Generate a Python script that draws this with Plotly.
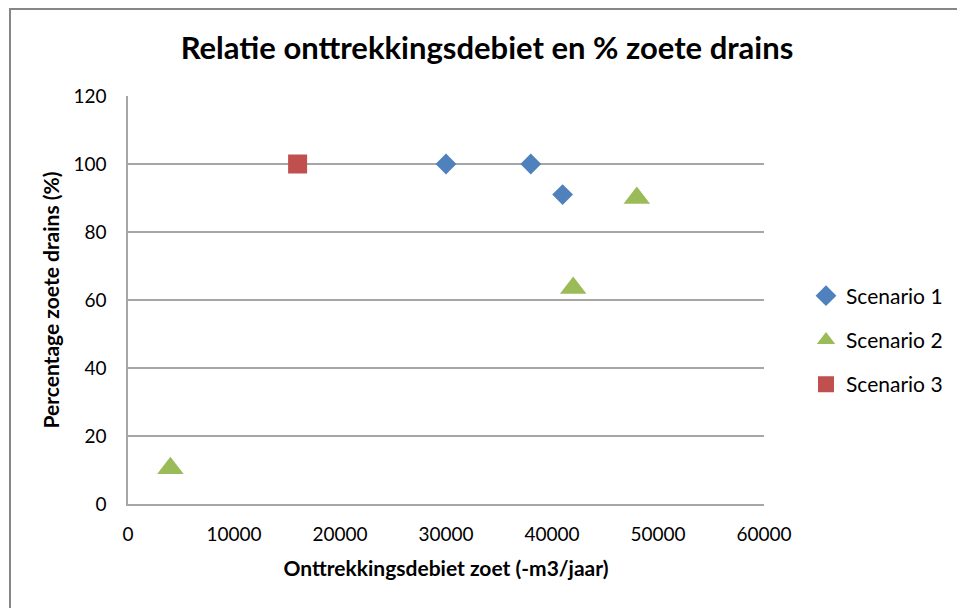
import plotly.graph_objects as go

# Scenario data: abstraction rate (-m3/jaar) vs. percentage fresh drains
s1_x = [30000, 38000, 41000]
s1_y = [100, 100, 91]
s2_x = [4000, 42000, 48000]
s2_y = [10.5, 63.5, 90]
s3_x = [16000]
s3_y = [100]

x_ticks = [0, 10000, 20000, 30000, 40000, 50000, 60000]
y_ticks = [0, 20, 40, 60, 80, 100, 120]

FONT = "Lato, 'Open Sans', sans-serif"
GRID = "#A6A6A6"

fig = go.Figure()
fig.add_trace(go.Scatter(x=s1_x, y=s1_y, mode="markers", name="Scenario 1", legendgroup="a",
                         marker=dict(symbol="diamond", size=16, color="#4F81BD")))
fig.add_trace(go.Scatter(x=s2_x, y=s2_y, mode="markers", name="Scenario 2", legendgroup="b",
                         marker=dict(symbol="triangle-up", size=23, color="#9BBB59")))
fig.add_trace(go.Scatter(x=s3_x, y=s3_y, mode="markers", name="Scenario 3", legendgroup="c",
                         marker=dict(symbol="square", size=19, color="#C0504D")))

L, R, T, B = 128, 193, 96, 104
W, H = 957, 608
pw, ph = W - L - R, H - T - B

fig.update_layout(
    width=W, height=H,
    margin=dict(l=L, r=R, t=T, b=B, autoexpand=False),
    paper_bgcolor="white", plot_bgcolor="white",
    font=dict(family=FONT, size=19, color="#000000"),
    title=dict(text="<b>Relatie onttrekkingsdebiet en % zoete drains</b>",
               x=487 / W, xanchor="center", y=1 - 48 / H, yanchor="middle",
               font=dict(size=31, family=FONT)),
    xaxis=dict(range=[0, 60000], tickvals=x_ticks, ticktext=[str(v) for v in x_ticks],
               showgrid=False, zeroline=False, showline=True, linecolor=GRID,
               linewidth=1.5, ticks="", ticklabelstandoff=12, tickfont=dict(size=19),
               title=dict(text="<b>Onttrekkingsdebiet zoet (-m3/jaar)</b>", standoff=18,
                          font=dict(size=21))),
    yaxis=dict(range=[0, 120], tickvals=y_ticks, ticktext=[str(v) for v in y_ticks],
               showgrid=True, gridcolor=GRID, gridwidth=1.5, zeroline=False,
               showline=True, linecolor=GRID, linewidth=1.5, ticks="",
               ticklabelstandoff=16, tickfont=dict(size=19),
               title=dict(text="<b>Percentage zoete drains (%)</b>", standoff=8,
                          font=dict(size=21))),
    legend=dict(x=(806 - L) / pw, y=(504 - 340) / ph, xanchor="left", yanchor="middle",
                font=dict(size=21), tracegroupgap=14, itemwidth=30,
                bgcolor="rgba(0,0,0,0)"),
    showlegend=True,
)

# Outer chart border
fig.add_shape(type="rect", xref="paper", yref="paper",
              x0=(10 - L) / pw, x1=(W + 20 - L) / pw,
              y0=(504 - (H + 20)) / ph, y1=(504 - 9) / ph,
              line=dict(color="#878787", width=2), fillcolor="rgba(0,0,0,0)", layer="below")

fig.write_html("out.html")
